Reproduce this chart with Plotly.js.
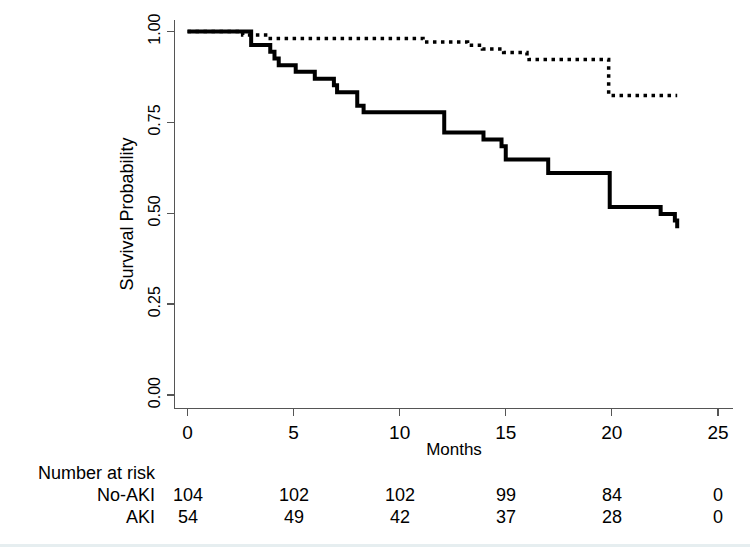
<!DOCTYPE html>
<html>
<head>
<meta charset="utf-8">
<script src="https://cdn.plot.ly/plotly-3.0.1.min.js"></script>
<style>html,body{margin:0;padding:0;background:#fff;}#chart{width:750px;height:547px;}</style>
</head>
<body>
<div id="chart"></div>
<script>
// Kaplan-Meier step data
var akiTime = [0, 3.0, 3.9, 4.1, 4.3, 5.1, 6.0, 6.9, 7.05, 8.0, 8.3, 12.1, 13.95, 14.8, 15.0, 17.0, 19.9, 22.3, 22.97, 23.08];
var akiSurv = [1.0, 0.963, 0.944, 0.926, 0.907, 0.889, 0.870, 0.852, 0.833, 0.796, 0.778, 0.722, 0.703, 0.684, 0.648, 0.611, 0.517, 0.498, 0.480, 0.459];

var noAkiTime = [0, 2.6, 3.9, 11.1, 13.2, 13.9, 14.9, 16.0, 16.1, 19.85, 23.08];
var noAkiSurv = [1.0, 0.990, 0.981, 0.971, 0.962, 0.952, 0.942, 0.932, 0.923, 0.824, 0.824];

// Number at risk table
var riskTimes = [0, 5, 10, 15, 20, 25];
var riskNoAki = [104, 102, 102, 99, 84, 0];
var riskAki = [54, 49, 42, 37, 28, 0];
var riskGroups = ["No-AKI", "AKI"];

var xTicks = [0, 5, 10, 15, 20, 25];
var yTicks = [0, 0.25, 0.5, 0.75, 1.0];
var yTickText = ["0.00", "0.25", "0.50", "0.75", "1.00"];

var FONT = "Liberation Sans, Arial, Helvetica, sans-serif";

var traces = [
  {x: noAkiTime, y: noAkiSurv, type: "scatter", mode: "lines", name: "No-AKI",
   line: {shape: "hv", color: "#000", width: 3.5, dash: "3.5px,4.5px"}, hoverinfo: "skip"},
  {x: akiTime, y: akiSurv, type: "scatter", mode: "lines", name: "AKI",
   line: {shape: "hv", color: "#000", width: 4}, hoverinfo: "skip"}
];

// paper y from pixel y (plot area: top 20, bottom 408)
function py(p) { return (408 - p) / 388; }

var ann = [];
ann.push({text: "Number at risk", xref: "paper", yref: "paper", x: (36 - 175) / 558, y: py(473),
  xanchor: "left", yanchor: "middle", showarrow: false, font: {family: FONT, size: 18, color: "#000"}});
var rows = [riskNoAki, riskAki];
var rowY = [495, 517];
for (var r = 0; r < rows.length; r++) {
  ann.push({text: riskGroups[r], xref: "paper", yref: "paper", x: (157 - 175) / 558, y: py(rowY[r]),
    xanchor: "right", yanchor: "middle", showarrow: false, font: {family: FONT, size: 18, color: "#000"}});
  for (var i = 0; i < riskTimes.length; i++) {
    ann.push({text: String(rows[r][i]), xref: "x", yref: "paper", x: riskTimes[i], y: py(rowY[r]),
      xanchor: "center", yanchor: "middle", showarrow: false, font: {family: FONT, size: 18, color: "#000"}});
  }
}

var layout = {
  width: 750, height: 547,
  margin: {l: 175, r: 17, t: 20, b: 139, pad: 0},
  paper_bgcolor: "#fff", plot_bgcolor: "#fff",
  showlegend: false,
  font: {family: FONT, color: "#000"},
  xaxis: {
    range: [-0.589, 25.71], tickvals: xTicks, ticktext: xTicks.map(String),
    showgrid: false, zeroline: false, showline: true, linecolor: "#555", linewidth: 1.3,
    ticks: "outside", ticklen: 7, tickcolor: "#555", tickwidth: 1.3,
    tickfont: {family: FONT, size: 19, color: "#000"},
    title: {text: "Months", font: {family: FONT, size: 17, color: "#000"}, standoff: 1},
    automargin: false, fixedrange: true
  },
  yaxis: {
    range: [-0.0358, 1.0316], tickvals: yTicks, ticktext: yTickText,
    showgrid: false, zeroline: false, showline: true, linecolor: "#555", linewidth: 1.3,
    ticks: "outside", ticklen: 7, tickcolor: "#555", tickwidth: 1.3, tickangle: -90,
    tickfont: {family: FONT, size: 16, color: "#000"},
    title: {text: "Survival Probability", font: {family: FONT, size: 18, color: "#000"}, standoff: 8},
    automargin: false, fixedrange: true
  },
  annotations: ann,
  shapes: [
    {type: "rect", xref: "paper", yref: "paper", x0: -0.4, x1: 1.1, y0: py(544), y1: py(548),
     fillcolor: "#e6eef0", line: {width: 0}, layer: "below"}
  ]
};

Plotly.newPlot("chart", traces, layout, {displayModeBar: false, staticPlot: true});
</script>
</body>
</html>
